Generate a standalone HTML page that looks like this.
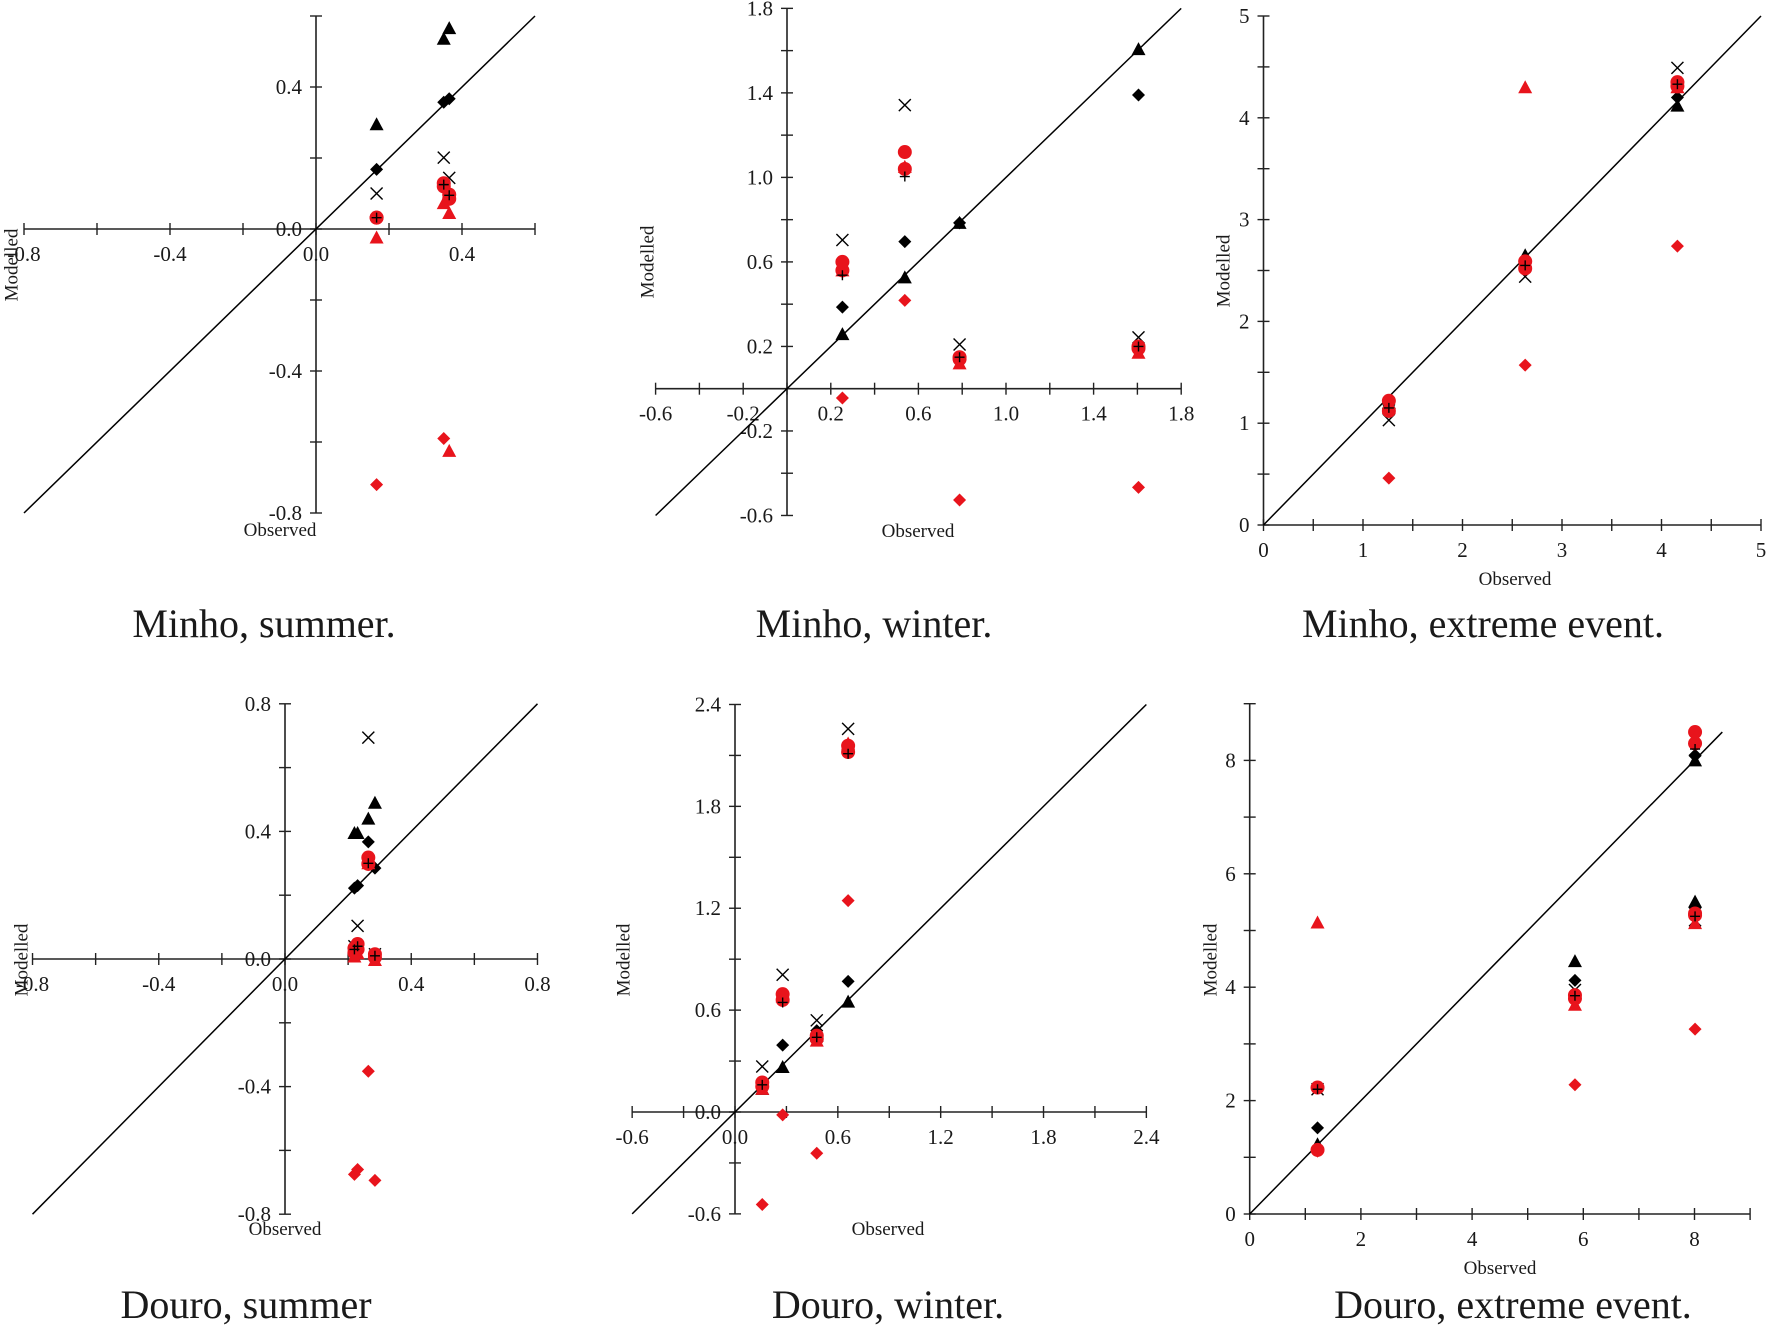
<!DOCTYPE html>
<html><head><meta charset="utf-8"><style>
html,body{margin:0;padding:0;background:#fff;}
svg{display:block;}
text{font-family:"Liberation Serif",serif;fill:#1a1a1a;}
</style></head><body>
<svg id="fig" width="1772" height="1327" viewBox="0 0 1772 1327" xmlns="http://www.w3.org/2000/svg"></svg>
<script>
// ---- data (observed vs modelled) ----
const p1Obs=[0.166,0.35,0.365];
const p1TriB=[0.295,0.536,0.566];
const p1DiaB=[0.168,0.357,0.367];
const p1Cross=[0.10,0.201,0.144];
const p1CircR=[0.032,0.129,0.097];
const p1CircR2=[0.032,0.12,0.085];
const p1Plus=[0.032,0.125,0.095];
const p1TriR=[-0.024,0.073,0.045];
const p1TriR2=[null,null,-0.625];
const p1DiaR=[-0.72,-0.59,null];

const p2Obs=[0.253,0.538,0.788,1.605];
const p2TriB=[0.258,0.527,0.785,1.607];
const p2DiaB=[0.386,0.696,0.785,1.39];
const p2Cross=[0.704,1.342,0.209,0.243];
const p2CircR=[0.6,1.12,0.149,0.2];
const p2CircR2=[0.56,1.04,0.14,0.19];
const p2Plus=[0.537,1.004,0.149,0.2];
const p2TriR=[0.56,1.05,0.12,0.17];
const p2TriR2=[null,null,null,null];
const p2DiaR=[-0.044,0.418,-0.527,-0.467];

const p3Obs=[1.26,2.63,4.16];
const p3TriB=[1.2,2.65,4.12];
const p3DiaB=[1.18,2.61,4.2];
const p3Cross=[1.03,2.44,4.49];
const p3CircR=[1.22,2.59,4.35];
const p3CircR2=[1.12,2.52,4.31];
const p3Plus=[1.15,2.55,4.33];
const p3TriR=[1.15,4.3,4.3];
const p3TriR2=[null,null,null];
const p3DiaR=[0.46,1.57,2.74];

const p4Obs=[0.22,0.23,0.264,0.285];
const p4TriB=[0.395,0.395,0.44,0.49];
const p4DiaB=[0.222,0.23,0.367,0.285];
const p4Cross=[0.04,0.104,0.694,0.015];
const p4CircR=[0.034,0.047,0.318,0.015];
const p4CircR2=[0.02,0.03,0.298,0.005];
const p4Plus=[0.03,0.04,0.3,0.01];
const p4TriR=[0.008,0.018,0.3,-0.003];
const p4TriR2=[null,null,null,null];
const p4DiaR=[-0.675,-0.66,-0.352,-0.694];

const p5Obs=[0.159,0.278,0.477,0.66];
const p5TriB=[0.136,0.265,0.45,0.65];
const p5DiaB=[0.161,0.394,0.479,0.769];
const p5Cross=[0.268,0.808,0.54,2.256];
const p5CircR=[0.174,0.694,0.45,2.157];
const p5CircR2=[0.15,0.66,0.43,2.12];
const p5Plus=[0.16,0.645,0.44,2.11];
const p5TriR=[0.136,0.68,0.42,2.17];
const p5TriR2=[null,null,null,null];
const p5DiaR=[-0.545,-0.017,-0.243,1.245];

const p6Obs=[1.22,5.85,8.01,8.01];
const p6TriB=[1.23,4.46,8.0,5.51];
const p6DiaB=[1.52,4.12,8.08,5.4];
const p6Cross=[2.2,3.95,8.19,5.18];
const p6CircR=[2.23,3.86,8.5,5.27];
const p6CircR2=[1.13,3.8,8.3,5.3];
const p6Plus=[2.2,3.85,8.2,5.25];
const p6TriR=[5.14,3.69,8.4,5.13];
const p6TriR2=[null,null,null,null];
const p6DiaR=[1.11,2.28,3.26,null];

const p1XLabels=[-0.8,-0.4,0,0.4], p1YLabels=[0.4,0,-0.4,-0.8];
const p2XLabels=[-0.6,-0.2,0.2,0.6,1.0,1.4,1.8], p2YLabels=[1.8,1.4,1.0,0.6,0.2,-0.2,-0.6];
const p3XLabels=[0,1,2,3,4,5], p3YLabels=[0,1,2,3,4,5];
const p4XLabels=[-0.8,-0.4,0,0.4,0.8], p4YLabels=[0.8,0.4,0,-0.4,-0.8];
const p5XLabels=[-0.6,0,0.6,1.2,1.8,2.4], p5YLabels=[2.4,1.8,1.2,0.6,0,-0.6];
const p6XLabels=[0,2,4,6,8], p6YLabels=[0,2,4,6,8];

const NS="http://www.w3.org/2000/svg";
const svg=document.getElementById('fig');
function mk(tag,attrs,parent){const e=document.createElementNS(NS,tag);for(const k in attrs)e.setAttribute(k,attrs[k]);(parent||svg).appendChild(e);return e;}

const panels=[
 {id:'minho-summer',cap:'Minho, summer.',x0:316,xs:365,xmin:-0.8,xmax:0.6,y0:229,ys:355,ymin:-0.8,ymax:0.6,step:0.2,dec:1,dmin:-0.8,dmax:0.6,
  xl:p1XLabels,yl:p1YLabels,obs:p1Obs,s:[p1TriB,p1DiaB,p1Cross,p1CircR,p1CircR2,p1TriR,p1TriR2,p1Plus,p1DiaR],
  mod:[12,265],obsL:[280,536],capP:[264,637]},
 {id:'minho-winter',cap:'Minho, winter.',x0:787,xs:219,xmin:-0.6,xmax:1.8,y0:388.7,ys:211.3,ymin:-0.6,ymax:1.8,step:0.2,dec:1,dmin:-0.6,dmax:1.8,
  xl:p2XLabels,yl:p2YLabels,obs:p2Obs,s:[p2TriB,p2DiaB,p2Cross,p2CircR,p2CircR2,p2TriR,p2TriR2,p2Plus,p2DiaR],
  mod:[648,262],obsL:[918,537],capP:[874,637]},
 {id:'minho-extreme',cap:'Minho, extreme event.',x0:1263.5,xs:99.5,xmin:0,xmax:5,y0:525,ys:101.8,ymin:0,ymax:5,step:0.5,dec:0,dmin:0,dmax:5,
  xl:p3XLabels,yl:p3YLabels,obs:p3Obs,s:[p3TriB,p3DiaB,p3Cross,p3CircR,p3CircR2,p3TriR,p3TriR2,p3Plus,p3DiaR],
  mod:[1224,271],obsL:[1515,585],capP:[1483,637]},
 {id:'douro-summer',cap:'Douro, summer',x0:285,xs:315.6,xmin:-0.8,xmax:0.8,y0:959,ys:319,ymin:-0.8,ymax:0.8,step:0.2,dec:1,dmin:-0.8,dmax:0.8,
  xl:p4XLabels,yl:p4YLabels,obs:p4Obs,s:[p4TriB,p4DiaB,p4Cross,p4CircR,p4CircR2,p4TriR,p4TriR2,p4Plus,p4DiaR],
  mod:[22,960],obsL:[285,1235],capP:[246,1318]},
 {id:'douro-winter',cap:'Douro, winter.',x0:735,xs:171.4,xmin:-0.6,xmax:2.4,y0:1112,ys:169.8,ymin:-0.6,ymax:2.4,step:0.3,dec:1,dmin:-0.6,dmax:2.4,
  xl:p5XLabels,yl:p5YLabels,obs:p5Obs,s:[p5TriB,p5DiaB,p5Cross,p5CircR,p5CircR2,p5TriR,p5TriR2,p5Plus,p5DiaR],
  mod:[624,960],obsL:[888,1235],capP:[888,1318]},
 {id:'douro-extreme',cap:'Douro, extreme event.',x0:1249.7,xs:55.6,xmin:0,xmax:9,y0:1214,ys:56.7,ymin:0,ymax:9,step:1,dec:0,dmin:0,dmax:8.5,
  xl:p6XLabels,yl:p6YLabels,obs:p6Obs,s:[p6TriB,p6DiaB,p6Cross,p6CircR,p6CircR2,p6TriR,p6TriR2,p6Plus,p6DiaR],
  mod:[1211,960],obsL:[1500,1274],capP:[1513,1318]}
];
const kinds=['tri-black','diamond-black','cross','circle-red','circle-red','tri-red','tri-red','plus','diamond-red'];

panels.forEach(p=>{
  const g=mk('g',{});
  
  
  const X=v=>p.x0+v*p.xs, Y=v=>p.y0-v*p.ys;
  const xa=mk('line',{x1:X(p.xmin),y1:p.y0,x2:X(p.xmax),y2:p.y0,stroke:'#222','stroke-width':1.6},g);
  
  
  const ya=mk('line',{x1:p.x0,y1:Y(p.ymin),x2:p.x0,y2:Y(p.ymax),stroke:'#222','stroke-width':1.6},g);
  
  
  const nx=Math.round((p.xmax-p.xmin)/p.step);
  for(let i=0;i<=nx;i++){const v=p.xmin+i*p.step;mk('line',{x1:X(v),y1:p.y0-6,x2:X(v),y2:p.y0+6,stroke:'#222','stroke-width':1.4},g);}
  const ny=Math.round((p.ymax-p.ymin)/p.step);
  for(let i=0;i<=ny;i++){const v=p.ymin+i*p.step;mk('line',{x1:p.x0-6,y1:Y(v),x2:p.x0+6,y2:Y(v),stroke:'#222','stroke-width':1.4},g);}
  p.xl.forEach(v=>{const t=mk('text',{x:X(v),y:p.y0+32,'font-size':21,'text-anchor':'middle'},g);t.textContent=v.toFixed(p.dec);
    
    });
  p.yl.forEach(v=>{const t=mk('text',{x:p.x0-14,y:Y(v)+7,'font-size':21,'text-anchor':'end'},g);t.textContent=v.toFixed(p.dec);
    
    });
  const d=mk('line',{x1:X(p.dmin),y1:Y(p.dmin),x2:X(p.dmax),y2:Y(p.dmax),stroke:'#000','stroke-width':1.5},g);
  
  
  p.s.forEach((arr,si)=>{
    const k=kinds[si];
    arr.forEach((v,i)=>{
      if(v===null||v===undefined)return;
      const cx=X(p.obs[i]), cy=Y(v); let e;
      if(k.startsWith('tri')){const c=k==='tri-red'?'#e8141c':'#000';e=mk('polygon',{points:`${cx},${cy-7} ${cx-7},${cy+6} ${cx+7},${cy+6}`,fill:c},g);}
      else if(k.startsWith('diamond')){const c=k==='diamond-red'?'#e8141c':'#000';e=mk('polygon',{points:`${cx},${cy-6.5} ${cx+6.5},${cy} ${cx},${cy+6.5} ${cx-6.5},${cy}`,fill:c},g);}
      else if(k==='cross'){e=mk('path',{d:`M${cx-6},${cy-6}L${cx+6},${cy+6}M${cx+6},${cy-6}L${cx-6},${cy+6}`,stroke:'#000','stroke-width':1.4,fill:'none'},g);}
      else if(k==='circle-red'){e=mk('circle',{cx:cx,cy:cy,r:7,fill:'#e8141c'},g);}
      else if(k==='plus'){e=mk('path',{d:`M${cx-5},${cy}L${cx+5},${cy}M${cx},${cy-5}L${cx},${cy+5}`,stroke:'#000','stroke-width':1.4,fill:'none'},g);}
      
      
    });
  });
  const m=mk('text',{x:p.mod[0],y:p.mod[1],'font-size':19,'text-anchor':'middle',transform:`rotate(-90 ${p.mod[0]} ${p.mod[1]})`,'dominant-baseline':'central'},g);
  m.textContent='Modelled';
  
  
  const o=mk('text',{x:p.obsL[0],y:p.obsL[1],'font-size':19,'text-anchor':'middle'},g);
  o.textContent='Observed';
  
  
  const c=mk('text',{x:p.capP[0],y:p.capP[1],'font-size':40,'text-anchor':'middle'},g);
  c.textContent=p.cap;
  
  
});
</script>
</body></html>
